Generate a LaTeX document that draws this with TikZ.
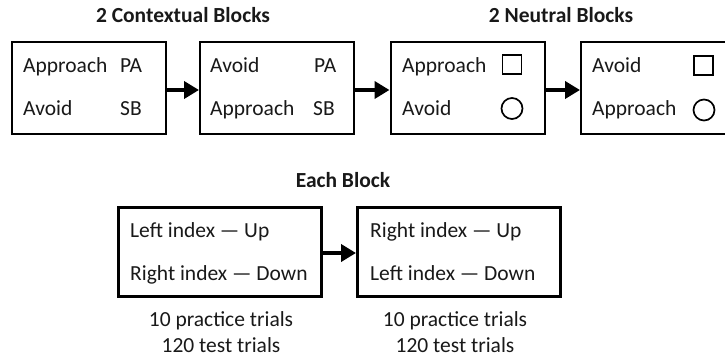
\documentclass[tikz,border=0pt]{standalone}
\usepackage{fontspec}
\setmainfont{Carlito}
\usetikzlibrary{arrows.meta}
\begin{document}
\begin{tikzpicture}[x=1pt,y=-1pt,
  every node/.style={font=\fontsize{21.5}{24}\selectfont, text=black!90, inner sep=0pt},
  topbox/.style={draw=black, line width=2pt, minimum width=154pt, minimum height=92pt},
  botbox/.style={draw=black, line width=3pt, minimum width=203pt, minimum height=89pt},
  lbl/.style={anchor=base west},
  ttl/.style={anchor=base, font=\fontsize{21.5}{24}\selectfont\bfseries},
  arr/.style={line width=4.5pt, -{Triangle[length=15pt,width=17pt]}},
  sq/.style={draw=black, line width=1.7pt, minimum width=19pt, minimum height=19pt},
  circ/.style={draw=black, line width=1.7pt, circle, minimum size=21pt}]
\clip (0,0) rectangle (725,358);
\fill[white] (0,0) rectangle (725,358);
% titles
\node[ttl] (t1) at (183,22.7) {2 Contextual Blocks};
\node[ttl] (t2) at (561,22.7) {2 Neutral Blocks};
\node[ttl] (t3) at (343,188) {Each Block};
% top boxes
\node[topbox] (b1) at (89,88) {};
\node[topbox] (b2) at (277,88) {};
\node[topbox] (b3) at (467.5,88) {};
\node[topbox] (b4) at (658,88) {};
% box 1 text
\node[lbl] (b1a) at (23,72.5) {Approach};
\node[lbl] (b1b) at (120,72.5) {PA};
\node[lbl] (b1c) at (23,116) {Avoid};
\node[lbl] (b1d) at (120,116) {SB};
% box 2 text
\node[lbl] (b2a) at (210,72.5) {Avoid};
\node[lbl] (b2b) at (314,72.5) {PA};
\node[lbl] (b2c) at (210,116) {Approach};
\node[lbl] (b2d) at (313,116) {SB};
% box 3 text
\node[lbl] (b3a) at (402,72.5) {Approach};
\node[lbl] (b3c) at (402,116) {Avoid};
\node[sq] (s3) at (512,64.5) {};
\node[circ] (c3) at (512,108.5) {};
% box 4 text
\node[lbl] (b4a) at (592,72.5) {Avoid};
\node[lbl] (b4c) at (592,116) {Approach};
\node[sq] (s4) at (703.5,65.5) {};
\node[circ] (c4) at (704,110) {};
% top arrows
\draw[arr] ([yshift=-2pt]b1.east) -- ([yshift=-2pt]b2.west);
\draw[arr] ([yshift=-2pt]b2.east) -- ([yshift=-2pt]b3.west);
\draw[arr] ([yshift=-2pt]b3.east) -- ([yshift=-2pt]b4.west);
% bottom boxes
\node[botbox] (b5) at (220,251.5) {};
\node[botbox] (b6) at (459,251.5) {};
\node[lbl] (b5a) at (130,237.5) {Left index — Up};
\node[lbl] (b5b) at (130,280.7) {Right index — Down};
\node[lbl] (b6a) at (370,237.5) {Right index — Up};
\node[lbl] (b6b) at (370,280.7) {Left index — Down};
\draw[arr] ([yshift=-1.5pt]b5.east) -- ([yshift=-1.5pt]b6.west);
% trial counts
\node[anchor=base] (p5) at (221,326.7) {10 practice trials};
\node[anchor=base] (q5) at (221,352.7) {120 test trials};
\node[anchor=base] (p6) at (455,326.7) {10 practice trials};
\node[anchor=base] (q6) at (455,352.7) {120 test trials};
\end{tikzpicture}
\end{document}
